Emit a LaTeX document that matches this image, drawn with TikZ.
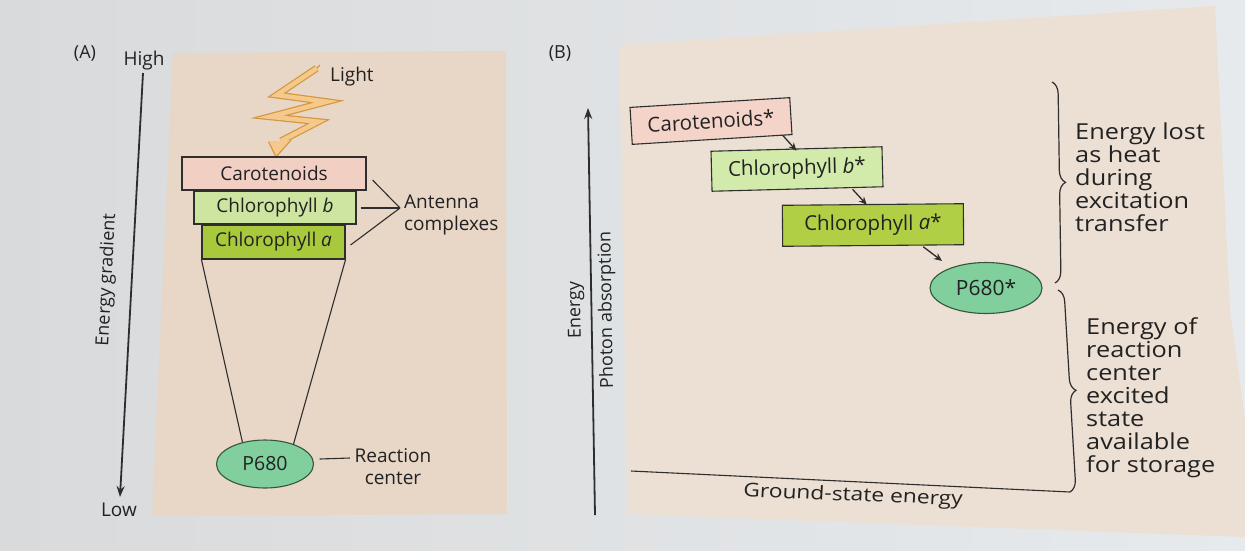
\documentclass[tikz,border=0pt]{standalone}
\usepackage{fontspec}
\setmainfont{Open Sans}
\usetikzlibrary{shapes.geometric,decorations.pathreplacing,arrows.meta,calc}
\definecolor{paperL}{HTML}{D9DADB}
\definecolor{paperR}{HTML}{E6EAED}
\definecolor{beigeA}{HTML}{E8D6C6}
\definecolor{beigeB}{HTML}{ECDFD3}
\definecolor{caroA}{HTML}{F1CFC3}
\definecolor{chlbA}{HTML}{CDE5A0}
\definecolor{chlaA}{HTML}{A8C93C}
\definecolor{caroB}{HTML}{F4D4C9}
\definecolor{chlbB}{HTML}{D3EBAA}
\definecolor{chlaB}{HTML}{B0CF45}
\definecolor{pfill}{HTML}{80CF9D}
\definecolor{elledge}{HTML}{35553F}
\definecolor{edge}{HTML}{2E2E2E}
\definecolor{txt}{HTML}{222222}
\definecolor{boltfill}{HTML}{F5C98C}
\definecolor{boltedge}{HTML}{D4963E}
\begin{document}
\begin{tikzpicture}[x=1pt,y=-1pt,
  boxA/.style={draw=edge, line width=1.1pt, inner sep=0pt, text=txt, font=\fontsize{19}{22}\selectfont},
  boxB/.style={boxA, font=\fontsize{20.5}{24}\selectfont},
  ellA/.style={ellipse, draw=elledge, line width=1.1pt, fill=pfill, inner sep=0pt, text=txt},
  lab/.style={text=txt, inner sep=0pt, font=\fontsize{19}{22}\selectfont},
  labS/.style={text=txt, inner sep=0pt, font=\fontsize{18}{21}\selectfont},
  labR/.style={text=txt, inner sep=0pt, font=\fontsize{22}{23}\selectfont, align=left, anchor=west, xscale=1.15},
  lnk/.style={draw=edge, line width=1.1pt},
  smallarrow/.style={draw=edge, line width=1.3pt, -{Stealth[length=8pt,width=7pt]}},
  axisarrow/.style={draw=edge, line width=1.8pt, -{Stealth[length=11pt,width=8pt]}},
  bracestyle/.style={draw=edge, line width=1.2pt, decorate, decoration={brace, amplitude=12pt}}
]
\useasboundingbox (0,0) rectangle (1245,550);
\shade[left color=paperL, right color=paperR] (0,0) rectangle (1245,550);

% panels
\fill[beigeA] (173,53) -- (506,51) -- (507,514) -- (152,516) -- cycle;
\fill[beigeB] (619,45) -- (1215,6) -- (1230,310) -- (1245,420) -- (1245,537) -- (628,514) -- cycle;

% ---------- Panel A ----------
\node[labS] (labA) at (85,53) {(A)};
\node[lab] (high) at (144,61) {High};
\node[lab] (low) at (119,510) {Low};
\coordinate (hiA) at (143,73);
\coordinate (loA) at (120,497);
\draw[axisarrow] (hiA) -- (loA);
\node[labS, rotate=87] (egrad) at (107,280) {Energy gradient};

% lightning
\coordinate (b0) at (320,65);
\coordinate (b1) at (316.7,68.3);
\coordinate (b2) at (276.7,95);
\coordinate (b3) at (326.7,101.7);
\coordinate (b4) at (270,116.7);
\coordinate (b5) at (318.3,121.7);
\coordinate (b6) at (281,141);
\coordinate (hl) at (268.5,141.5);
\coordinate (hr) at (291,140);
\coordinate (ht) at (276,157);
\draw[boltedge, line width=1.2pt] (b0) -- (b1);
\draw[boltedge, line width=7pt, line join=miter, miter limit=6] (b1) -- (b2) -- (b3) -- (b4) -- (b5) -- (b6);
\draw[boltfill, line width=4.6pt, line join=miter, miter limit=6] (b1) -- (b2) -- (b3) -- (b4) -- (b5) -- (b6);
\fill[boltfill] (hl) -- (ht) -- (hr) -- cycle;
\draw[boltedge, line width=1.1pt, line join=miter] (hl) -- (ht) -- (hr);
\node[lab, anchor=west] (light) at (330,77) {Light};

\node[boxA, fill=caroA, minimum width=184pt, minimum height=33pt] (carA) at (274,173.5) {Carotenoids};
\node[boxA, fill=chlbA, minimum width=162pt, minimum height=33pt] (chlbA) at (275,207.5) {Chlorophyll \textit{b}};
\node[boxA, fill=chlaA, minimum width=143pt, minimum height=34pt] (chlaA) at (273.5,242) {Chlorophyll \textit{a}};

\node[ellA, minimum width=97pt, minimum height=48pt, font=\fontsize{19.5}{22}\selectfont] (pA) at (265,464) {P680};
\draw[lnk] (chlaA.south west) -- (pA.136);
\draw[lnk] (chlaA.south east) -- (pA.35);

\node[lab, align=left, anchor=west] (ant) at (404,215) {Antenna\\complexes};
\coordinate (apex) at (400,208);
\draw[lnk] ($(carA.east)+(6,6.5)$) -- (apex);
\draw[lnk] ($(chlbA.east)+(4,0.5)$) -- (apex);
\draw[lnk] ($(chlaA.east)+(5,3)$) -- (apex);

\node[lab, align=center] (rc) at (393,467) {Reaction\\center};
\draw[lnk] ($(pA.east)+(5.5,-5)$) -- ($(rc.west)+(-4.5,-9)$);

% ---------- Panel B ----------
\node[labS] (labB) at (560,53) {(B)};
\coordinate (enB0) at (595,515);
\coordinate (enB1) at (588,108);
\draw[axisarrow] (enB0) -- (enB1);
\node[labS, rotate=91] (energy) at (576,310) {Energy};
\node[labS, rotate=91] (photon) at (607,310) {Photon absorption};

\node[boxB, fill=caroB, minimum width=160pt, minimum height=37pt, rotate=3.5] (carB) at (711,121) {Carotenoids*};
\node[boxB, fill=chlbB, minimum width=171pt, minimum height=40pt, rotate=1.5] (chlbB) at (797,169) {Chlorophyll \textit{b}*};
\node[boxB, fill=chlaB, minimum width=181pt, minimum height=41pt, rotate=0.5] (chlaB) at (873,225) {Chlorophyll \textit{a}*};
\node[ellA, minimum width=112pt, minimum height=51pt, font=\fontsize{21}{24}\selectfont] (pB) at (986,288) {P680*};

\draw[smallarrow] ($(carB.south east)+(-10,0)$) -- ($(chlbB.north west)+(86,0)$);
\draw[smallarrow] ($(chlbB.south east)+(-31,2)$) -- ($(chlaB.north west)+(85,0)$);
\draw[smallarrow] ($(chlaB.south east)+(-41,1.5)$) -- ($(pB.north)+(-44,-1)$);

\coordinate (br1a) at (1052,82);
\coordinate (br1b) at (1055,283);
\coordinate (br2a) at (1058,290);
\coordinate (br2b) at (1070,492);
\draw[bracestyle] (br1a) -- (br1b);
\draw[bracestyle] (br2a) -- (br2b);

\coordinate (gl0) at (631,471);
\draw[lnk] (gl0) -- (br2b);
\node[text=txt, inner sep=0pt, font=\fontsize{19}{22}\selectfont, xscale=1.2, rotate=-2.8] (ground) at (853,496) {Ground-state energy};

\node[labR] (heat) at (1075,177.5) {Energy lost\\as heat\\during\\excitation\\transfer};
\node[labR] (store) at (1086,397.5) {Energy of\\reaction\\center\\excited\\state\\available\\for storage};
\end{tikzpicture}
\end{document}
